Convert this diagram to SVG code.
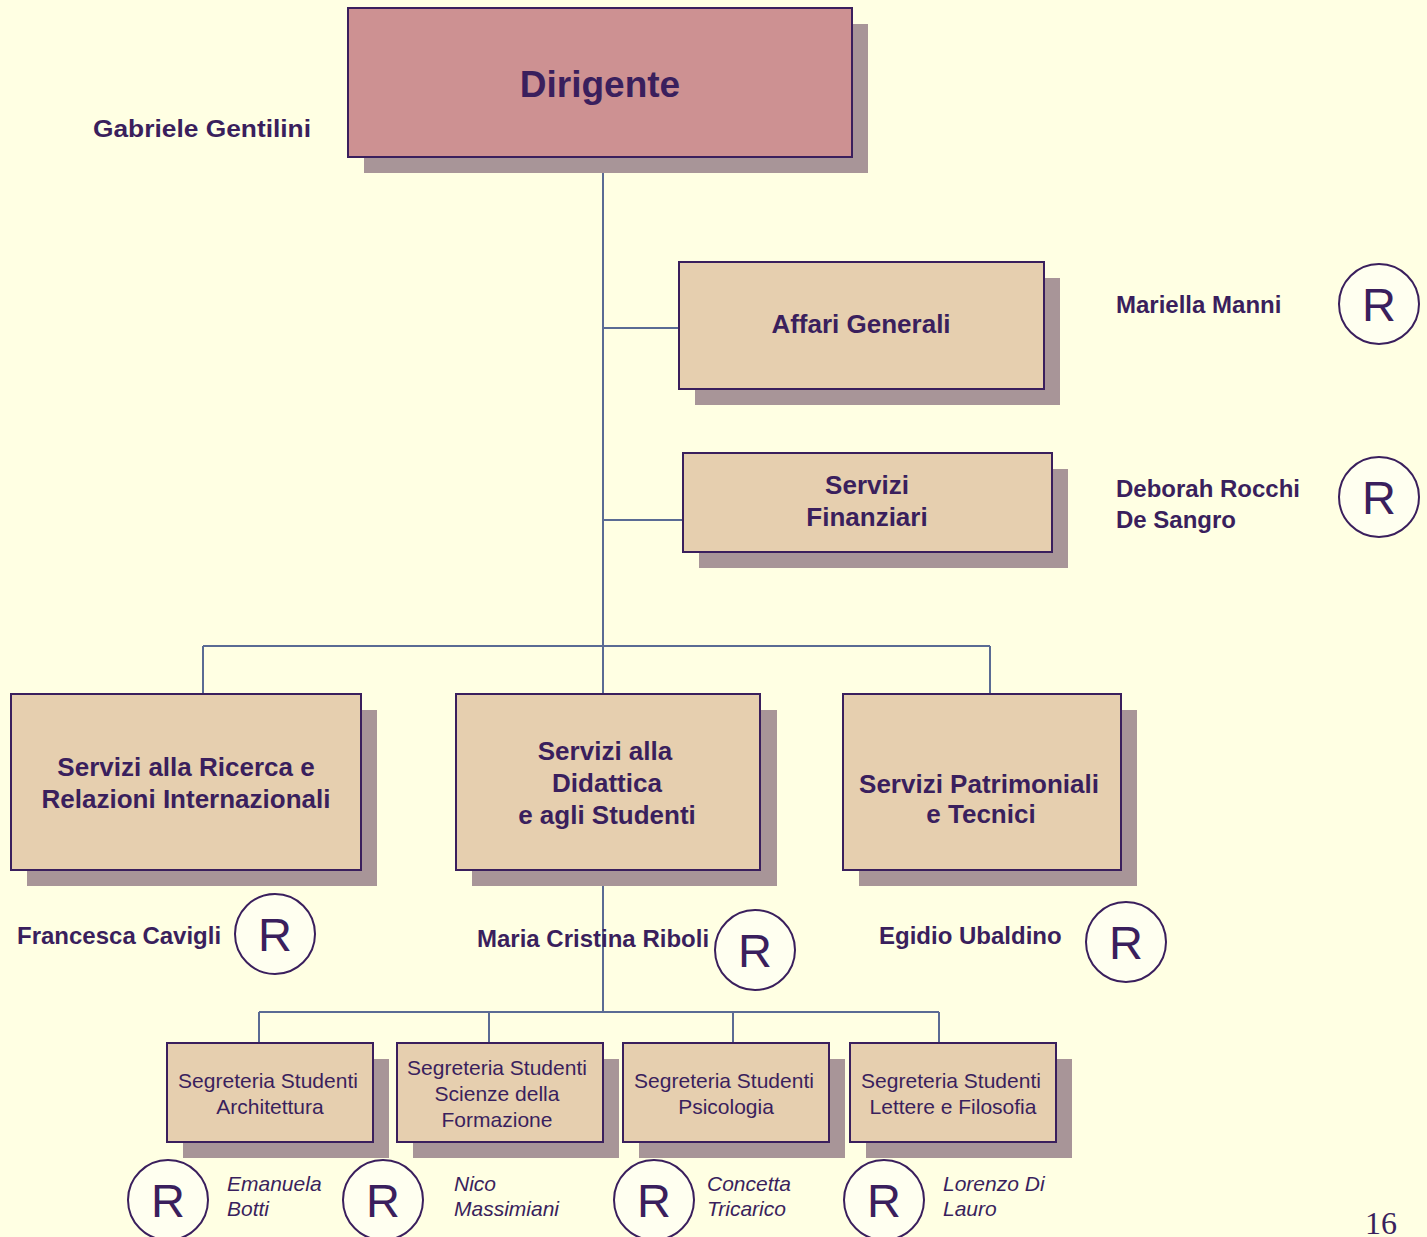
<svg xmlns="http://www.w3.org/2000/svg" width="1427" height="1237" viewBox="0 0 1427 1237">
<style>
.bg{fill:#FFFFE3}
.sh{fill:#A89598}
.box{fill:#E6CFAF;stroke:#3A1F5D;stroke-width:2}
.top{fill:#CD9192;stroke:#3A1F5D;stroke-width:2}
.t{font-family:"Liberation Sans",Arial,sans-serif;fill:#3A1F5D;text-anchor:middle}
.b{font-weight:bold;font-size:26px}
.n{font-family:"Liberation Sans",Arial,sans-serif;fill:#3A1F5D;font-weight:bold;font-size:24px}
.s{font-size:21px}
.i{font-family:"Liberation Sans",Arial,sans-serif;fill:#3A1F5D;font-style:italic;font-size:21px}
.c{fill:#FFFFF0;stroke:#3A1F5D;stroke-width:2}
.r{font-family:"Liberation Sans",Arial,sans-serif;fill:#3A1F5D;font-size:47px;text-anchor:middle}
.ln{stroke:#5A6B94;stroke-width:2;fill:none}
</style>
<rect class="bg" x="0" y="0" width="1427" height="1237"/>
<g id="connectors">
<path class="ln" d="M603 170V694M603 886V1012M603 328H679M603 520H683M203 646H990M203 646V694M990 646V694M259 1012H939M259 1012V1043M489 1012V1043M733 1012V1043M939 1012V1043"/>
</g>
<g id="dirigente">
<rect class="sh" x="364" y="24" width="504" height="149"/>
<rect class="top" x="348" y="8" width="504" height="149"/>
<text class="t" x="600" y="97" font-weight="bold" font-size="37">Dirigente</text>
<text class="n" x="93" y="137" font-size="26" textLength="218" lengthAdjust="spacingAndGlyphs">Gabriele Gentilini</text>
</g>
<g id="affari">
<rect class="sh" x="695" y="278" width="365" height="127"/>
<rect class="box" x="679" y="262" width="365" height="127"/>
<text class="t b" x="861" y="333">Affari Generali</text>
<text class="n" x="1116" y="313">Mariella Manni</text>
<circle class="c" cx="1379" cy="304" r="40"/>
<text class="r" x="1379" y="321">R</text>
</g>
<g id="finanziari">
<rect class="sh" x="699" y="469" width="369" height="99"/>
<rect class="box" x="683" y="453" width="369" height="99"/>
<text class="t b" x="867" y="494">Servizi</text>
<text class="t b" x="867" y="526">Finanziari</text>
<text class="n" x="1116" y="497">Deborah Rocchi</text>
<text class="n" x="1116" y="528">De Sangro</text>
<circle class="c" cx="1379" cy="497" r="40"/>
<text class="r" x="1379" y="514">R</text>
</g>
<g id="ricerca">
<rect class="sh" x="27" y="710" width="350" height="176"/>
<rect class="box" x="11" y="694" width="350" height="176"/>
<text class="t b" x="186" y="776">Servizi alla Ricerca e</text>
<text class="t b" x="186" y="808">Relazioni Internazionali</text>
<text class="n" x="17" y="944">Francesca Cavigli</text>
<circle class="c" cx="275" cy="934" r="40"/>
<text class="r" x="275" y="951">R</text>
</g>
<g id="didattica">
<rect class="sh" x="472" y="710" width="305" height="176"/>
<rect class="box" x="456" y="694" width="304" height="176"/>
<text class="t b" x="605" y="760">Servizi alla</text>
<text class="t b" x="607" y="792">Didattica</text>
<text class="t b" x="607" y="824">e agli Studenti</text>
<text class="n" x="477" y="947">Maria Cristina Riboli</text>
<circle class="c" cx="755" cy="950" r="40"/>
<text class="r" x="755" y="967">R</text>
</g>
<g id="patrimoniali">
<rect class="sh" x="859" y="710" width="278" height="176"/>
<rect class="box" x="843" y="694" width="278" height="176"/>
<text class="t b" x="979" y="793">Servizi Patrimoniali</text>
<text class="t b" x="981" y="823">e Tecnici</text>
<text class="n" x="879" y="944">Egidio Ubaldino</text>
<circle class="c" cx="1126" cy="942" r="40"/>
<text class="r" x="1126" y="959">R</text>
</g>
<g id="architettura">
<rect class="sh" x="183" y="1059" width="206" height="99"/>
<rect class="box" x="167" y="1043" width="206" height="99"/>
<text class="t s" x="268" y="1088">Segreteria Studenti</text>
<text class="t s" x="270" y="1114">Architettura</text>
<circle class="c" cx="168" cy="1200" r="40"/>
<text class="r" x="168" y="1217">R</text>
<text class="i" x="227" y="1191">Emanuela</text>
<text class="i" x="227" y="1216">Botti</text>
</g>
<g id="formazione">
<rect class="sh" x="413" y="1059" width="206" height="99"/>
<rect class="box" x="397" y="1043" width="206" height="99"/>
<text class="t s" x="497" y="1075">Segreteria Studenti</text>
<text class="t s" x="497" y="1101">Scienze della</text>
<text class="t s" x="497" y="1127">Formazione</text>
<circle class="c" cx="383" cy="1200" r="40"/>
<text class="r" x="383" y="1217">R</text>
<text class="i" x="454" y="1191">Nico</text>
<text class="i" x="454" y="1216">Massimiani</text>
</g>
<g id="psicologia">
<rect class="sh" x="639" y="1059" width="206" height="99"/>
<rect class="box" x="623" y="1043" width="206" height="99"/>
<text class="t s" x="724" y="1088">Segreteria Studenti</text>
<text class="t s" x="726" y="1114">Psicologia</text>
<circle class="c" cx="654" cy="1200" r="40"/>
<text class="r" x="654" y="1217">R</text>
<text class="i" x="707" y="1191">Concetta</text>
<text class="i" x="707" y="1216">Tricarico</text>
</g>
<g id="lettere">
<rect class="sh" x="866" y="1059" width="206" height="99"/>
<rect class="box" x="850" y="1043" width="206" height="99"/>
<text class="t s" x="951" y="1088">Segreteria Studenti</text>
<text class="t s" x="953" y="1114">Lettere e Filosofia</text>
<circle class="c" cx="884" cy="1200" r="40"/>
<text class="r" x="884" y="1217">R</text>
<text class="i" x="943" y="1191">Lorenzo Di</text>
<text class="i" x="943" y="1216">Lauro</text>
</g>
<text x="1365" y="1234" font-family="Liberation Serif,serif" font-size="32" fill="#3A1F5D">16</text>
</svg>
